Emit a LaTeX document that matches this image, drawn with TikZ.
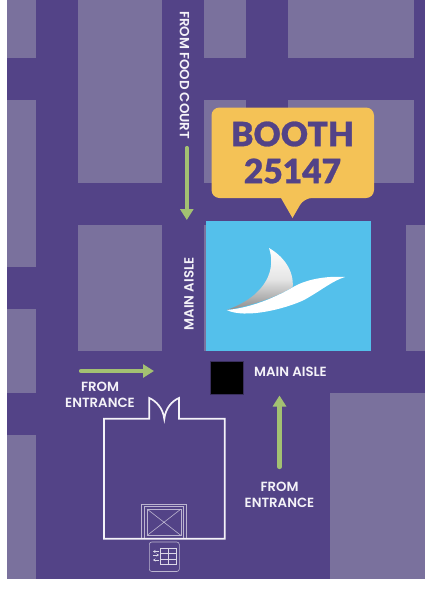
\documentclass[tikz,border=0pt]{standalone}
\usepackage{fontspec}
\setmainfont{Poppins SemiBold}
\newfontfamily\boothfont{Lato Black}[FakeBold=0.8]
\usetikzlibrary{arrows.meta,shadings}
\definecolor{aisle}{HTML}{534387}
\definecolor{blockc}{HTML}{7A719D}
\definecolor{booth}{HTML}{54C0EB}
\definecolor{callout}{HTML}{F4C256}
\definecolor{arrowg}{HTML}{A3C172}
\definecolor{wall}{HTML}{F4F2F8}
\tikzset{
  block/.style={fill=blockc,draw=none},
  labeltext/.style={text=wall,font=\fontsize{13.3}{15.5}\selectfont,align=center,inner sep=0pt},
  routearrow/.style={draw=arrowg,line width=4.2pt,line cap=round,-{Triangle[length=11pt,width=13pt,fill=arrowg]}},
  wallline/.style={draw=wall,line width=1.7pt},
  fineline/.style={draw=wall!65!aisle,line width=.6pt},
}
\begin{document}
\begin{tikzpicture}[x=1pt,y=-1pt]
\useasboundingbox (0,0) rectangle (425,595);
\fill[white] (0,0) rectangle (425,595);
\fill[aisle] (7,0) rectangle (425,579);
% blocks
\path[block] (7,0) rectangle (36,58);
\path[block] (7,100) rectangle (36,267);
\path[block] (7,309) rectangle (36,393);
\path[block] (7,435) rectangle (36,579);
\path[block] (78,0) rectangle (162,183);
\path[block] (78,225) rectangle (162,351);
\path[block] (204,0) rectangle (246,58);
\path[block] (204,100) rectangle (246,183);
\path[block] (204,225) rectangle (246,351);
\path[block] (288,0) rectangle (414,58);
\path[block] (288,100) rectangle (414,183);
\path[block] (406,225) rectangle (425,351);
\path[block] (330,393) rectangle (425,579);
% booth
\node[fill=booth,draw=none,minimum width=165pt,minimum height=130.5pt,inner sep=0pt,anchor=north west] (boothbox) at (206,220.5) {};
% logo
\shade[top color=white,bottom color=black!45,middle color=black!10]
  (269,248) .. controls (283,256) and (294,270) .. (292.7,287) .. controls (275,298) and (250,306) .. (226.7,310)
  .. controls (268,295) and (276,268) .. (269,248) -- cycle;
\fill[white] (226.7,310) .. controls (250,308) and (275,298) .. (295,286)
  .. controls (310,278) and (330,276) .. (345,277)
  .. controls (332,281) and (322,290) .. (304,300)
  .. controls (285,309) and (245,319) .. (226.7,310) -- cycle;
% callout
\fill[callout,rounded corners=8pt] (211.5,107.5) -- (374,107.5) -- (374,198) -- (304,198) [sharp corners] -- (292.5,218) -- (281,198) [rounded corners=8pt] -- (211.5,198) -- cycle;
\node[text=aisle,font=\boothfont\fontsize{33.5}{37}\selectfont,align=center,inner sep=0pt] (boothlabel) at (292.5,152.5) {BOOTH\\25147};
% black square
\node[fill=black,draw=aisle!70!black,line width=.5pt,minimum width=33pt,minimum height=33pt,inner sep=0pt,anchor=north west] (marker) at (210.3,361) {};
% labels
\node[labeltext,rotate=-90] (foodcourt) at (184.5,75) {FROM FOOD COURT};
\node[labeltext,rotate=90] (aislev) at (189,294) {MAIN AISLE};
\node[labeltext] (aisleh) at (290.5,371.5) {MAIN AISLE};
\node[labeltext] (entrleft) at (100,395) {FROM\\ENTRANCE};
\node[labeltext] (entrright) at (279.5,495) {FROM\\ENTRANCE};
% arrows
\coordinate (a1s) at (186.8,148); \coordinate (a1e) at (186.8,220);
\coordinate (a2s) at (81,371); \coordinate (a2e) at (154,371);
\coordinate (a3s) at (279.5,467); \coordinate (a3e) at (279.5,395.5);
\draw[routearrow] (a1s) -- (a1e);
\draw[routearrow] (a2s) -- (a2e);
\draw[routearrow] (a3s) -- (a3e);
% building
\draw[wallline,line join=miter] (104,418.7) -- (149.3,418.7) -- (149.3,398)
  .. controls (156,401) and (163,408) .. (164.3,419) .. controls (165.5,408) and (172,401) .. (179,398)
  -- (179,418.7) -- (224.7,418.7) -- (224.7,538.7) -- (104,538.7) -- cycle;
% elevator
\draw[fineline] (141.7,537.5) -- (141.7,504) -- (186.3,504) -- (186.3,537.5);
\draw[fineline] (144.3,537.5) -- (144.3,506.7) -- (183.7,506.7) -- (183.7,537.5);
\draw[fineline] (147,509) rectangle (181,535.5);
\draw[fineline] (147,509) -- (181,535.5) (181,509) -- (147,535.5);
% icon
\draw[fineline,rounded corners=2.5pt] (149.3,542) rectangle (179.3,571.5);
\draw[wall!85!aisle,line width=.6pt] (160,548.7) rectangle (176,564.7);
\draw[wall!85!aisle,line width=.5pt] (160,553.5) -- (176,553.5) (160,559) -- (176,559) (168,548.7) -- (168,564.7);
\draw[wall!85!aisle,line width=.6pt,-{Stealth[length=2.5pt,width=3pt]}] (159,551.5) -- (153,551.5);
\draw[wall!85!aisle,line width=.6pt,-{Stealth[length=2.5pt,width=3pt]}] (153,555) -- (159,555);
\draw[wall!85!aisle,line width=.6pt,-{Stealth[length=2.5pt,width=3pt]}] (159,560) -- (153,560);
\end{tikzpicture}
\end{document}
